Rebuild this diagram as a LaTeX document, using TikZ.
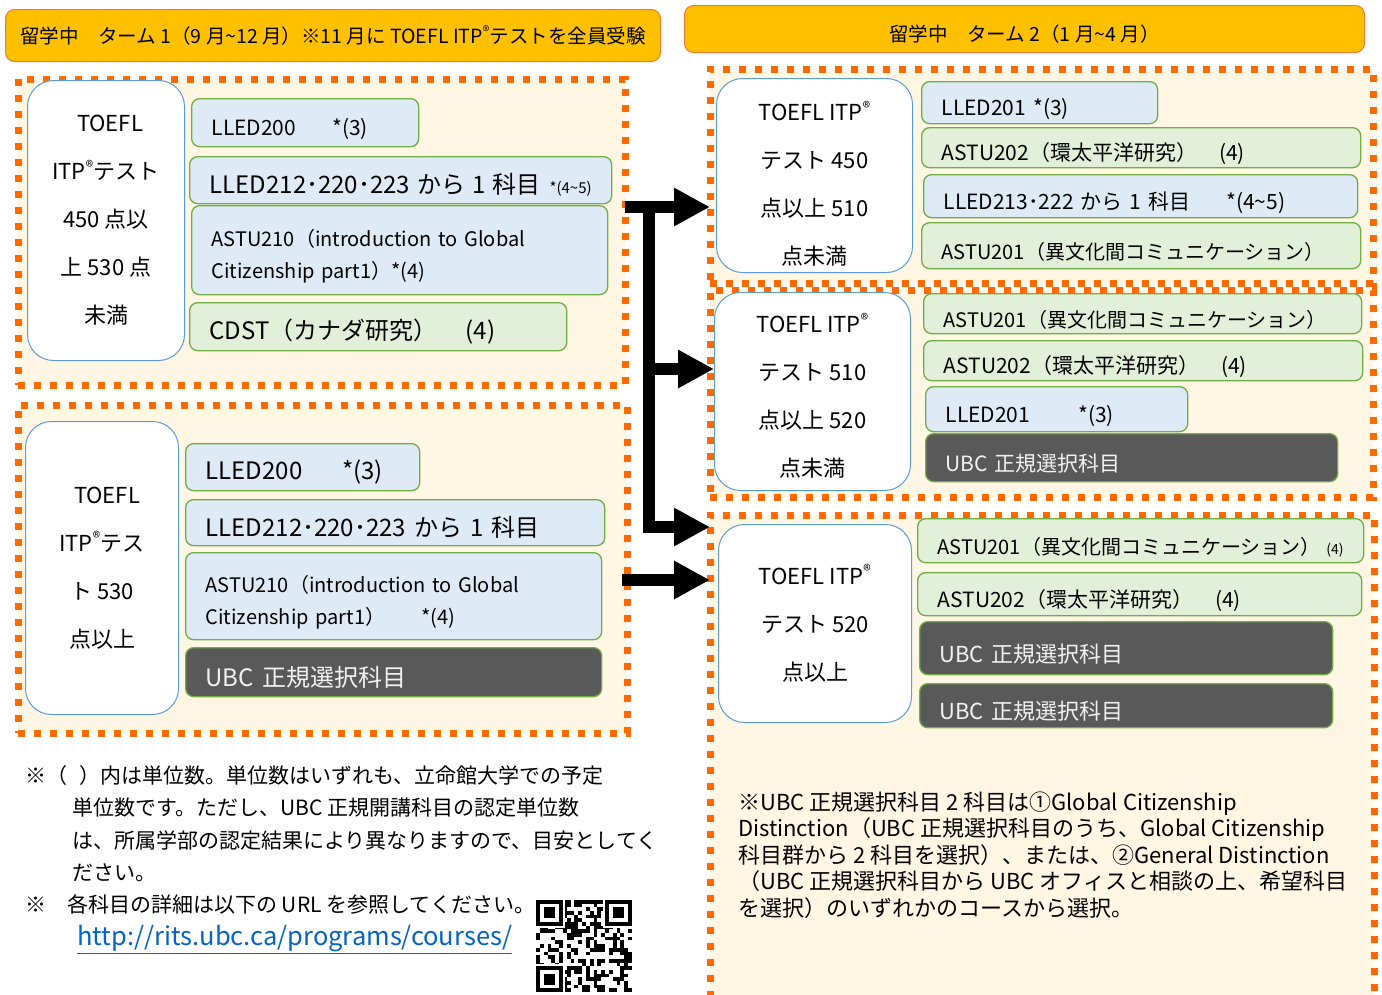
\documentclass[tikz,border=0pt]{standalone}
\usepackage{fontspec}
\setmainfont{Noto Sans CJK JP}
\usetikzlibrary{arrows.meta}
\definecolor{headfill}{HTML}{FFC000}
\definecolor{headline}{HTML}{ED7D31}
\definecolor{dotorange}{HTML}{FF6A00}
\definecolor{cream}{HTML}{FFF6E4}
\definecolor{scoreblue}{HTML}{5B9BD5}
\definecolor{crsline}{HTML}{70AD47}
\definecolor{crsblue}{HTML}{DEEBF7}
\definecolor{crsgreen}{HTML}{E2F0D9}
\definecolor{ubcgray}{HTML}{595959}
\definecolor{urlblue}{HTML}{0563C1}
\newcommand{\fs}[1]{\fontsize{#1}{#1}\selectfont}
\newcommand{\fsl}[2]{\fontsize{#1}{#2}\selectfont}
\newcommand{\tm}{\textsuperscript{®}}
\newcommand{\til}{\textasciitilde}
\begin{document}
\begin{tikzpicture}[x=1pt,y=-1pt,
  head/.style={draw=headline,fill=headfill,rounded corners=9pt,line width=1pt,anchor=north west,inner sep=0pt,font=\fs{19.5}},
  frame/.style={draw=dotorange,fill=cream,line width=7pt,dash pattern=on 7pt off 9pt,anchor=north west,inner sep=0pt,outer sep=0pt},
  score/.style={draw=scoreblue,fill=white,rounded corners=26pt,line width=1pt,anchor=north west,align=center,inner sep=0pt,font=\fsl{22}{48}},
  scoretext/.style={align=center,inner sep=0pt,font=\fsl{22}{48}},
  crs/.style={draw=crsline,line width=1.3pt,rounded corners=8pt,anchor=north west,align=left,inner xsep=20pt,inner ysep=0pt,text height=30pt,font=\fs{21}},
  blu/.style={crs,fill=crsblue},
  grn/.style={crs,fill=crsgreen},
  ubc/.style={crs,fill=ubcgray,text=white!95!black},
  note/.style={anchor=base west,inner sep=0pt,font=\fs{21}},
  arr/.style={line width=12pt,-{Triangle[length=36pt,width=36pt]}}]
\fill[white] (0,0) rectangle (1382,994);
\useasboundingbox (0,0) rectangle (1382,994);

% headers
\node[head,minimum width=655,minimum height=52] (h1) at (5,9) {留学中　ターム 1（9 月\til12 月）※11 月に TOEFL ITP\tm テストを全員受験};
\node[head,minimum width=680,minimum height=47] (h2) at (684,5) {\raisebox{-12pt}[0pt][0pt]{留学中　ターム 2（1 月\til4 月）}};

% term 1
\node[frame,minimum width=607,minimum height=306] (l1) at (18,79) {};
\node[score,minimum width=157,minimum height=280] (l1s) at (27,80) {\hspace{8pt}TOEFL\\ITP\tm テスト\\450 点以\\上 530 点\\未満};
\node[blu,text width=187,minimum height=48] (l1a) at (191,98) {LLED200\hspace{36pt}*(3)};
\node[blu,text width=382,minimum height=47] (l1b) at (189,156) {\fs{24}LLED212･220･223 から 1 科目\hfill{\fs{15}*(4\til5)}};
\node[blu,text width=376,minimum height=89,font=\fsl{20}{32}] (l1c) at (191,205) {ASTU210（introduction to Global\\Citizenship part1）*(4)};
\node[grn,text width=337,minimum height=48,font=\fs{24}] (l1d) at (189,302) {CDST（カナダ研究）\hspace{28pt}(4)};

\node[frame,minimum width=609,minimum height=328] (l2) at (18,405) {};
\node[score,minimum width=153,minimum height=293] (l2s) at (25,421) {\hspace{10pt}TOEFL\\ITP\tm テス\\ト 530\\点以上};
\node[blu,text width=194,minimum height=47,font=\fs{24}] (l2a) at (185,443) {LLED200\hspace{40pt}*(3)};
\node[blu,text width=379,minimum height=46,font=\fs{24}] (l2b) at (185,499) {LLED212･220･223 から 1 科目};
\node[blu,text width=376,minimum height=87,font=\fsl{20}{32}] (l2c) at (185,552) {ASTU210（introduction to Global\\Citizenship part1）\hspace{36pt}*(4)};
\node[ubc,text width=376,minimum height=49,font=\fs{24}] (l2d) at (185,647) {UBC 正規選択科目};

% term 2
\node[frame,minimum width=663,minimum height=214] (r1) at (710,69) {};
\node[score,minimum width=196,minimum height=194] (r1s) at (716,78) {};
\node[scoretext] (r1t) at ([yshift=-8pt]r1s.center) {TOEFL ITP\tm\\テスト 450\\点以上 510\\点未満};
\node[blu,text width=196,minimum height=42] (r1a) at (921,81) {LLED201 *(3)};
\node[grn,text width=399,minimum height=40] (r1b) at (921,127) {ASTU202（環太平洋研究）\hspace{22pt}(4)};
\node[blu,text width=394,minimum height=43] (r1c) at (923,174) {LLED213･222 から 1 科目\hspace{36pt}*(4\til5)};
\node[grn,text width=399,minimum height=46,font=\fs{20}] (r1d) at (921,222) {ASTU201（異文化間コミュニケーション）};

\node[frame,minimum width=663,minimum height=207] (r2) at (710,290) {};
\node[score,minimum width=196,minimum height=198] (r2s) at (714,292) {};
\node[scoretext] (r2t) at ([yshift=-4pt]r2s.center) {TOEFL ITP\tm\\テスト 510\\点以上 520\\点未満};
\node[grn,text width=398,minimum height=40,font=\fs{20}] (r2a) at (923,293) {ASTU201（異文化間コミュニケーション）};
\node[grn,text width=399,minimum height=40] (r2b) at (923,340) {ASTU202（環太平洋研究）\hspace{22pt}(4)};
\node[blu,text width=222,minimum height=45] (r2c) at (925,386) {LLED201\hspace{48pt}*(3)};
\node[ubc,text width=372,minimum height=48] (r2d) at (925,433) {UBC 正規選択科目};

\node[frame,minimum width=664,minimum height=500] (r3) at (710,515) {};
\node[score,minimum width=193,minimum height=198] (r3s) at (718,524) {TOEFL ITP\tm\\テスト 520\\点以上};
\node[grn,text width=406,minimum height=44,font=\fs{20}] (r3a) at (917,518) {ASTU201（異文化間コミュニケーション）\hfill{\fs{14}(4)}};
\node[grn,text width=404,minimum height=43] (r3b) at (917,572) {ASTU202（環太平洋研究）\hspace{22pt}(4)};
\node[ubc,text width=373,minimum height=53,font=\fs{22}] (r3c) at (919,621) {UBC 正規選択科目};
\node[ubc,text width=373,minimum height=44,font=\fs{22}] (r3d) at (919,683) {UBC 正規選択科目};

\node[note,font=\fs{22}] (rn) at (738,810) {※UBC 正規選択科目 2 科目は①Global Citizenship};
\foreach \t [count=\i] in {Distinction（UBC 正規選択科目のうち、Global Citizenship,科目群から 2 科目を選択）、または、②General Distinction,（UBC 正規選択科目から UBC オフィスと相談の上、希望科目,を選択）のいずれかのコースから選択。}
  \node[note,font=\fs{22}] (rn\i) at (738,{810+26.5*\i}) {\t};

% arrows
\coordinate (top) at (649,207);
\coordinate (mid) at (649,369);
\coordinate (bot) at (649,527);
\coordinate (low) at (622,580);
\draw[arr] (l1.east |- top) -- (r1.west |- top);
\draw[arr] (top) |- (r3.west |- bot);
\draw[arr] (mid) -- (r2s.west |- mid);
\draw[arr] (low) -- (r3.west |- low);

% notes
\node[note] (n1) at (25,783) {※（\hspace{12pt}）内は単位数。単位数はいずれも、立命館大学での予定};
\foreach \t [count=\i] in {単位数です。ただし、UBC 正規開講科目の認定単位数,は、所属学部の認定結果により異なりますので、目安としてく,ださい。}
  \node[note] (n1\i) at (72,{783+32.5*\i}) {\t};
\node[note] (n2) at (25,912) {※　各科目の詳細は以下の URL を参照してください。};
\node[note,font=\fs{25.5},text=urlblue] (url) at (77,945) {\underline{http://rits.ubc.ca/programs/courses/}};

% qr code
\fill[white] (534,898) rectangle (634,994);
\begin{scope}[shift={(536,900)},x=3.84pt,y=-3.68pt]
  \pgfmathsetseed{11}
  \foreach \i in {0,...,24} \foreach \j in {0,...,24} {
    \pgfmathsetmacro\r{rnd}
    \ifdim\r pt>0.52pt \fill (\i,\j) rectangle ++(1,1); \fi
  }
  \foreach \a/\b in {0/0,18/0,0/18} {
    \fill[white] (\a-0.5,\b-0.5) rectangle ++(8,8);
    \fill (\a,\b) rectangle ++(7,7);
    \fill[white] (\a+1,\b+1) rectangle ++(5,5);
    \fill (\a+2,\b+2) rectangle ++(3,3);
  }
\end{scope}
\end{tikzpicture}
\end{document}
